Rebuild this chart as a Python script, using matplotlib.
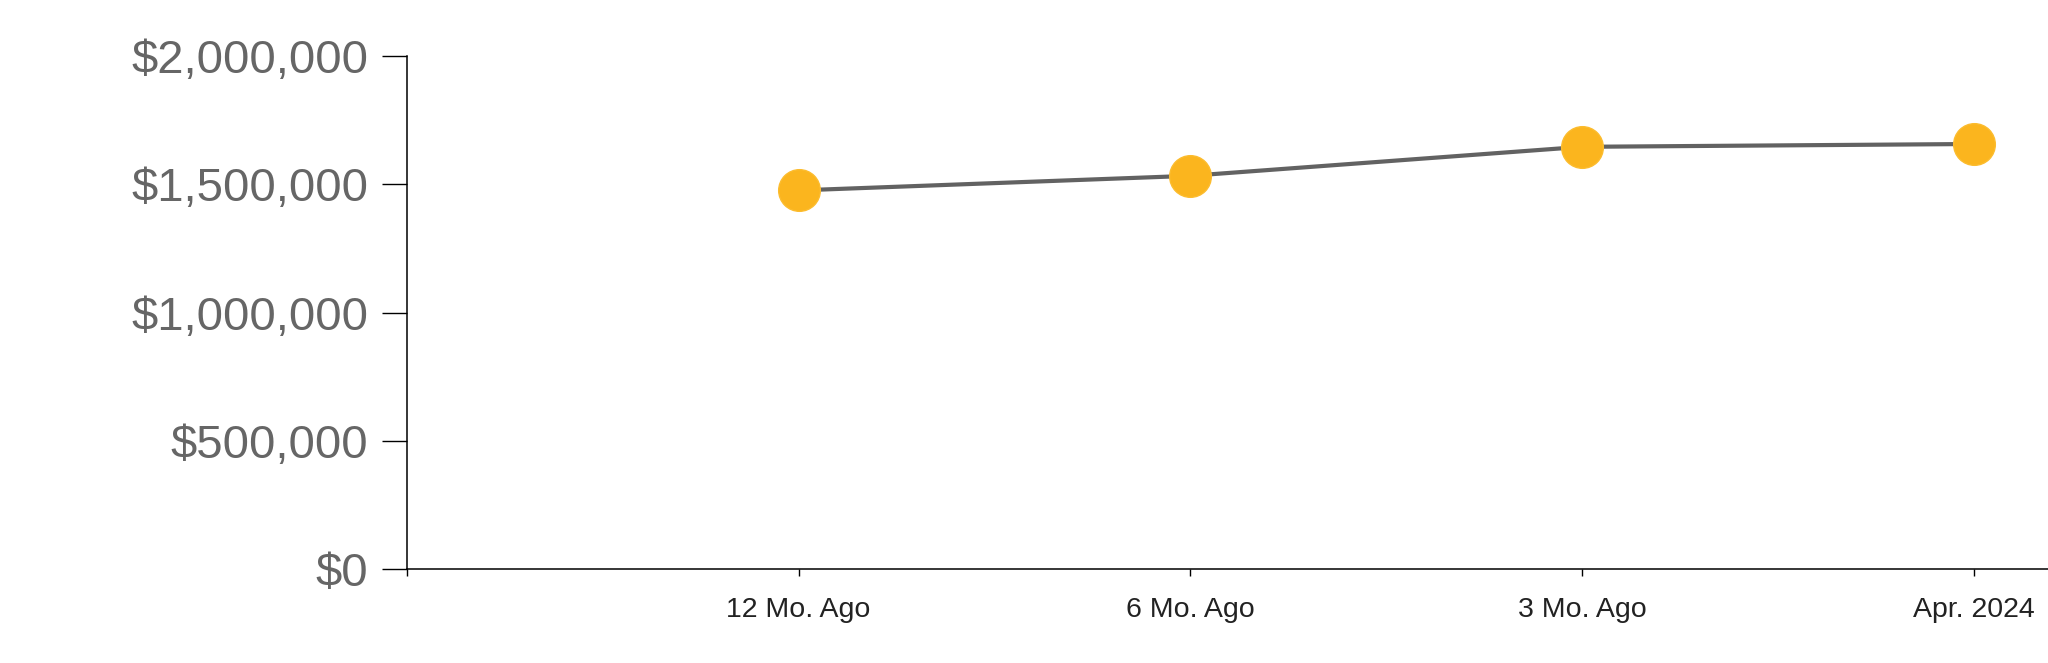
import matplotlib
matplotlib.use("Agg")
import matplotlib.pyplot as plt

# data
periods = ["12 Mo. Ago", "6 Mo. Ago", "3 Mo. Ago", "Apr. 2024"]
values = [1476000, 1533000, 1646000, 1657000]
y_ticks = [0, 500000, 1000000, 1500000, 2000000]
y_labels = ["$0", "$500,000", "$1,000,000", "$1,500,000", "$2,000,000"]

plt.rcParams["font.family"] = ["Liberation Sans", "DejaVu Sans"]

fig = plt.figure(figsize=(20.48, 6.63), dpi=100)
ax = fig.add_axes([0.1987, 0.1418, 0.8013, 0.7737])

x = list(range(1, len(periods) + 1))
ax.plot(x, values, color="#626262", lw=3, zorder=2)
ax.plot(x, values, "o", ms=30, color="#FBB51E", mec="#FCBC2E", mew=1, zorder=3, clip_on=False)

ax.set_xlim(0, 4.19)
ax.set_ylim(0, 2000000)

ax.set_yticks(y_ticks)
ax.set_yticklabels(y_labels)
ax.set_xticks([0] + x)
ax.set_xticklabels([""] + periods)

ax.tick_params(axis="y", length=18, width=1, pad=10, labelsize=34, labelcolor="#666666")
ax.tick_params(axis="x", length=5, width=1, pad=15, labelsize=20.5, labelcolor="#222222")

for s in ["top", "right"]:
    ax.spines[s].set_visible(False)
for s in ["left", "bottom"]:
    ax.spines[s].set_linewidth(1.1)
    ax.spines[s].set_color("black")

fig.savefig("out.png", dpi=100)
